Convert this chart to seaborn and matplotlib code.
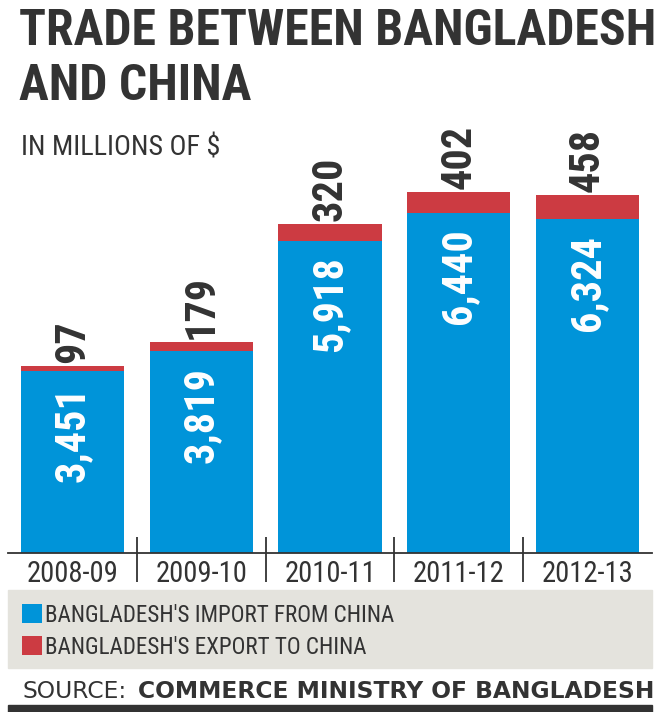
import numpy as np
import pandas as pd
import seaborn as sns
import matplotlib
matplotlib.use("Agg")
import matplotlib.pyplot as plt
from matplotlib import font_manager as fm
from matplotlib.patches import Rectangle

# trade values, millions of US$
years = ["2008-09", "2009-10", "2010-11", "2011-12", "2012-13"]
imports = [3451, 3819, 5918, 6440, 6324]
exports = [97, 179, 320, 402, 458]

title_lines = ["TRADE BETWEEN BANGLADESH", "AND CHINA"]
subtitle = "IN MILLIONS OF $"
legend_labels = ["BANGLADESH'S IMPORT FROM CHINA", "BANGLADESH'S EXPORT TO CHINA"]
source_lead = "SOURCE:"
source_name = "COMMERCE MINISTRY OF BANGLADESH"

BLUE = "#0094D9"
RED = "#CC3B42"
INK = "#333333"
PANEL = "#E4E3DD"
W, H = 660, 712


def pick_narrow():
    "find a narrow/condensed family if one is installed"
    fonts = fm.fontManager.ttflist
    names = {f.name for f in fonts}
    for fam in ["Liberation Sans Narrow", "Noto Sans Condensed", "Roboto Condensed", "Open Sans Condensed"]:
        if fam in names:
            return fam, "normal"
    for stretch in ["condensed", "semi-condensed", "extra-condensed"]:
        for fam in ["Noto Sans", "DejaVu Sans", "Open Sans", "Roboto"]:
            if any(f.name == fam and f.stretch == stretch for f in fonts):
                return fam, stretch
    return "DejaVu Sans", "normal"


FAM, STR = pick_narrow()

sns.set_style("white")
plt.rcParams["font.family"] = [FAM, "DejaVu Sans"]
plt.rcParams["font.stretch"] = STR

fig = plt.figure(figsize=(W / 100, H / 100), dpi=100)
R = fig.canvas.get_renderer()


def fit(s, target_px, max_pt, **kw):
    "largest size up to max_pt that keeps the text within target_px"
    t = fig.text(0, 0, s, fontsize=max_pt, **kw)
    w = t.get_window_extent(renderer=R).width
    t.remove()
    return min(max_pt, max_pt * target_px / w)


def px(v):
    return v * 100 / 72


base_y, top_y = 553, 120
ax = fig.add_axes([8 / W, 1 - base_y / H, 644 / W, (base_y - top_y) / H])
ymax = (base_y - top_y) / 0.05277
upp = ymax / (base_y - top_y)  # data units per pixel

df = pd.DataFrame({"year": years, "import": imports, "export": exports})
df["total"] = df["import"] + df["export"]

sns.barplot(data=df, x="year", y="total", color=RED, width=0.8, saturation=1,
            linewidth=0, ax=ax)
sns.barplot(data=df, x="year", y="import", color=BLUE, width=0.8, saturation=1,
            linewidth=0, ax=ax)

ax.set_xlim(-0.5, len(years) - 0.5)
ax.set_ylim(0, ymax)
ax.set_xlabel("")
ax.set_ylabel("")
ax.set_yticks([])
for side in ["left", "top", "right"]:
    ax.spines[side].set_visible(False)
ax.spines["bottom"].set_color(INK)
ax.spines["bottom"].set_linewidth(1.3)

# separators between categories
ax.vlines(np.arange(len(years) - 1) + 0.5, -29 * upp, 16 * upp, colors=INK,
          linewidth=1.3, clip_on=False)

tick_pt = fit(years[0], 92, 22)
ax.set_xticks(range(len(years)))
ax.set_xticklabels(years, fontsize=tick_pt, color=INK)
ax.tick_params(axis="x", length=0, pad=max(0, (13 - 0.2 * px(tick_pt)) * 0.72))

# value labels
val_pt = fit("6,440", 96, 32, fontweight="bold")
for i, row in df.iterrows():
    ax.annotate(f"{row['import']:,}", (i, row["import"]), xytext=(0, -11),
                textcoords="offset points", rotation=90, ha="center", va="top",
                color="white", fontsize=val_pt, fontweight="bold")
    ax.annotate(f"{row['export']:,}", (i, row["total"]), xytext=(0, 2),
                textcoords="offset points", rotation=90, ha="center", va="bottom",
                color=INK, fontsize=val_pt, fontweight="bold")

# title block
title_pt = fit(title_lines[0], 637, 38, fontweight="bold")
fig.text(19 / W, 1 - 45 / H, title_lines[0], fontsize=title_pt, fontweight="bold",
         color=INK, va="baseline", ha="left")
fig.text(19 / W, 1 - 100 / H, title_lines[1], fontsize=title_pt, fontweight="bold",
         color=INK, va="baseline", ha="left")
sub_pt = fit(subtitle, 200, 25)
fig.text(21 / W, 1 - 155 / H, subtitle, fontsize=sub_pt, color=INK,
         va="baseline", ha="left")

# legend panel
fig.add_artist(Rectangle((8 / W, 1 - 668 / H), 644 / W, 78 / H,
                         transform=fig.transFigure, color=PANEL, zorder=0))
leg_pt = fit(legend_labels[0], 348, 19)
f = px(leg_pt)
row_h = 1.17 * f
leg = fig.legend([ax.containers[1], ax.containers[0]], legend_labels,
                 loc="upper left", bbox_to_anchor=(22 / W, 1 - (617 - row_h / 2) / H),
                 frameon=False, borderpad=0, borderaxespad=0,
                 handlelength=20 / f, handleheight=20 / f, handletextpad=3 / f,
                 labelspacing=max(0.05, (36 - row_h) / f),
                 prop={"size": leg_pt}, labelcolor=INK)

# source line
src_pt = fit(source_name, 517, 18, fontweight="bold", family="DejaVu Sans",
             fontstretch="normal")
fig.text(23 / W, 1 - 698 / H, source_lead, fontsize=src_pt, family="DejaVu Sans",
         fontstretch="normal", color=INK, va="baseline", ha="left")
fig.text(138 / W, 1 - 698 / H, source_name, fontsize=src_pt, family="DejaVu Sans",
         fontstretch="normal", fontweight="bold", color=INK, va="baseline", ha="left")
fig.add_artist(Rectangle((8 / W, 0), 644 / W, 7 / H, transform=fig.transFigure,
                         color=INK))

fig.savefig("out.png", dpi=100)
